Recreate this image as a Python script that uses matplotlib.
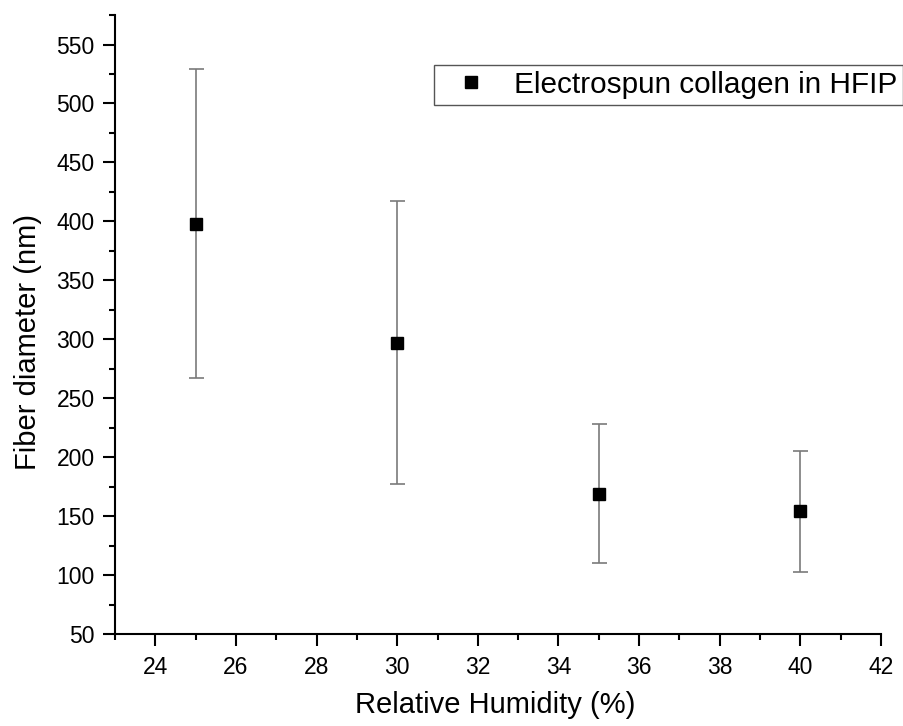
import matplotlib.pyplot as plt
from matplotlib.ticker import MultipleLocator

plt.rcParams['font.family'] = ['Liberation Sans', 'DejaVu Sans']

# Fiber diameter vs relative humidity
humidity = [25, 30, 35, 40]
diameter = [398, 297, 169, 154]
diameter_err = [131, 120, 59, 51]

fig = plt.figure(figsize=(9.04, 7.26), dpi=100)
ax = fig.add_axes([0.1272, 0.1267, 0.8474, 0.8526])

ax.errorbar(humidity, diameter, yerr=diameter_err, fmt='none',
            ecolor='#7a7a7a', elinewidth=1.2, capsize=5.4, capthick=1.2)
ax.plot(humidity, diameter, 's', color='black', markersize=8.5,
        label='Electrospun collagen in HFIP', zorder=3)

ax.set_xlim(23, 42)
ax.set_ylim(50, 575)
ax.xaxis.set_major_locator(MultipleLocator(2))
ax.xaxis.set_minor_locator(MultipleLocator(1))
ax.yaxis.set_major_locator(MultipleLocator(50))
ax.yaxis.set_minor_locator(MultipleLocator(25))

for side in ['top', 'right']:
    ax.spines[side].set_visible(False)
for side in ['left', 'bottom']:
    ax.spines[side].set_linewidth(1.5)

ax.tick_params(which='major', direction='out', length=8.6, width=1.5,
               labelsize=16.5)
ax.tick_params(axis='y', which='major', pad=6)
ax.tick_params(axis='x', which='major', pad=7)
ax.tick_params(which='minor', direction='out', length=4.5, width=1.5)

ax.set_xlabel('Relative Humidity (%)', fontsize=21)
ax.set_ylabel('Fiber diameter (nm)', fontsize=21)
ax.xaxis.set_label_coords(0.496, -0.092)
ax.yaxis.set_label_coords(-0.095, 0.472)

leg = ax.legend(loc='upper right', bbox_to_anchor=(0.999, 0.911),
                bbox_transform=fig.transFigure, fontsize=21.4,
                fancybox=False, framealpha=1, edgecolor='#555555',
                handletextpad=0.4, borderpad=0.2, handlelength=2.1,
                borderaxespad=0)
leg.get_frame().set_linewidth(1.0)

fig.savefig('out.png', dpi=100)
